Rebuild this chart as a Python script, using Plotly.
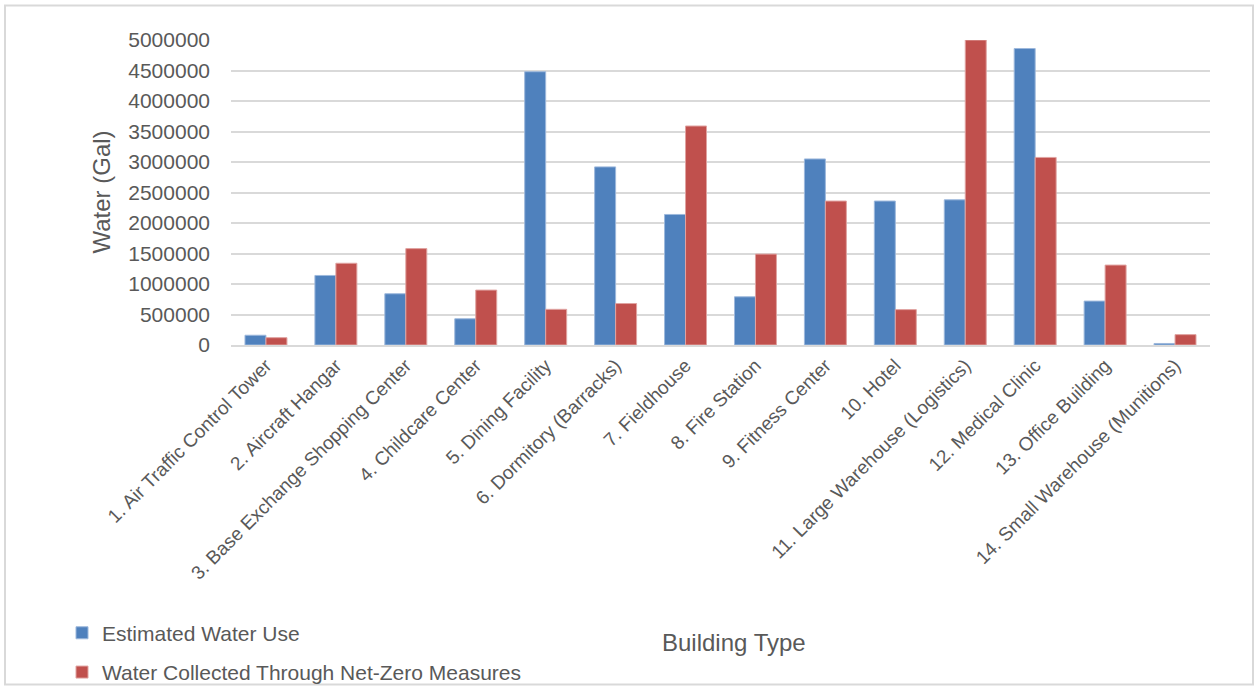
import plotly.graph_objects as go

categories = [
    "1. Air Traffic Control Tower", "2. Aircraft Hangar", "3. Base Exchange Shopping Center",
    "4. Childcare Center", "5. Dining Facility", "6. Dormitory (Barracks)", "7. Fieldhouse",
    "8. Fire Station", "9. Fitness Center", "10. Hotel", "11. Large Warehouse (Logistics)",
    "12. Medical Clinic", "13. Office Building", "14. Small Warehouse (Munitions)",
]
estimated_use = [160000, 1140000, 840000, 430000, 4480000, 2920000, 2140000,
                 790000, 3050000, 2360000, 2380000, 4860000, 720000, 25000]
collected = [120000, 1340000, 1580000, 900000, 585000, 680000, 3590000,
             1490000, 2360000, 580000, 5000000, 3075000, 1310000, 170000]
y_ticks = [0, 500000, 1000000, 1500000, 2000000, 2500000, 3000000, 3500000,
           4000000, 4500000, 5000000]

W, H = 1259, 687
L, R, T, B = 231, 49, 39.5, 341.5
pw, ph = W - L - R, H - T - B

def px(x):
    return (x - L) / pw

def py(y):
    return (H - B - y) / ph

font = "Liberation Sans"
grey = "#595959"

fig = go.Figure()
fig.add_trace(go.Bar(x=categories, y=estimated_use, name="Estimated Water Use",
                     legendgroup="use",
                     marker=dict(color="#4F81BD", line=dict(color="#9DB8DC", width=1))))
fig.add_trace(go.Bar(x=categories, y=collected, name="Water Collected Through Net-Zero Measures",
                     legendgroup="collected",
                     marker=dict(color="#C0504D", line=dict(color="#E0A3A1", width=1))))

fig.update_layout(
    width=W, height=H,
    margin=dict(l=L, r=R, t=T, b=B, pad=0, autoexpand=False),
    paper_bgcolor="white", plot_bgcolor="white",
    barmode="group", bargap=0.40, bargroupgap=0,
    font=dict(family=font, color=grey),
    showlegend=True,
    legend=dict(x=px(62), y=py(614), xanchor="left", yanchor="top",
                orientation="v", font=dict(size=21, color=grey, family=font),
                tracegroupgap=9, itemwidth=30, bgcolor="rgba(0,0,0,0)"),
    xaxis=dict(tickangle=-45, tickfont=dict(size=19, color=grey, family=font),
               showline=True, linecolor="#d9d9d9", linewidth=2, ticks="",
               showgrid=False, automargin=False),
    yaxis=dict(range=[0, 5000000], tickvals=y_ticks, ticktext=[str(v) for v in y_ticks],
               tickfont=dict(size=21, color=grey, family=font),
               showgrid=True, gridcolor="#d9d9d9", gridwidth=2, zeroline=False,
               ticks="", ticklabelstandoff=20, automargin=False),
    annotations=[
        dict(text="Water (Gal)", xref="paper", yref="paper", x=px(101), y=0.5,
             showarrow=False, textangle=-90, font=dict(size=24, color=grey, family=font),
             xanchor="center", yanchor="middle"),
        dict(text="Building Type", xref="paper", yref="paper", x=px(734), y=py(644),
             showarrow=False, font=dict(size=24, color=grey, family=font),
             xanchor="center", yanchor="middle"),
    ],
    shapes=[
        dict(type="rect", xref="paper", yref="paper", x0=px(5), x1=px(1253),
             y0=py(686), y1=py(5), line=dict(color="#d9d9d9", width=2),
             fillcolor="rgba(0,0,0,0)", layer="below"),
    ],
)

fig.write_html(
    "out.html",
    post_script="document.body.style.margin='0';document.documentElement.style.overflow='hidden';",
)
